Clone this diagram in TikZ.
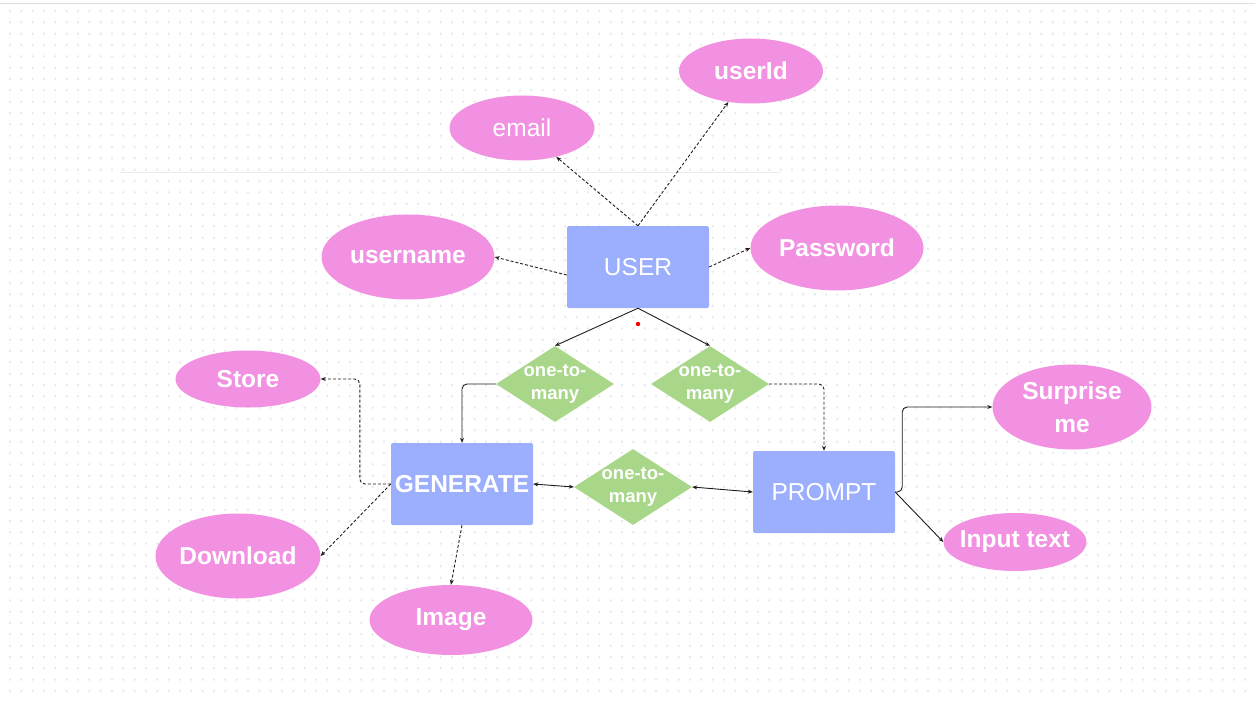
\documentclass[tikz,border=0pt]{standalone}
\usepackage{fontspec}
\setmainfont{Liberation Sans}
\usetikzlibrary{arrows.meta,shapes.geometric}
\definecolor{Entity}{HTML}{9CAFFE}
\definecolor{Attr}{HTML}{F290E1}
\definecolor{Rel}{HTML}{A9D78A}
\definecolor{Ink}{HTML}{1E1E1E}
\definecolor{Dots}{HTML}{E7E7EE}
\tikzset{
  >={Stealth[length=5pt,width=4pt]},
  entity/.style={rectangle,rounded corners=2pt,fill=Entity,minimum width=142pt,minimum height=82pt,text=white,font=\fontsize{24.5}{30}\selectfont},
  attr/.style={ellipse,fill=Attr,inner sep=-8pt,text=white,align=center,font=\fontsize{24.5}{33}\selectfont\bfseries},
  rel/.style={diamond,fill=Rel,aspect=1.55,inner sep=-3pt,minimum width=118pt,minimum height=76pt,text=white,align=center,font=\fontsize{18.5}{23}\selectfont\bfseries},
  link/.style={->,line width=.9pt,draw=Ink},
  duallink/.style={<->,line width=.9pt,draw=Ink},
  dashlink/.style={link,dash pattern=on 3pt off 2pt},
  griddots/.style={draw=Dots,line width=2.6pt,line cap=round,dash pattern=on 0pt off 11.333pt}
}
\begin{document}
\begin{tikzpicture}[x=1pt,y=-1pt]
  \useasboundingbox (0,0) rectangle (1255,701);
  % background
  \foreach \row in {0,...,60}
    \draw[griddots] (10,11+\row*11.333) -- (1255,11+\row*11.333);
  \draw[gray!25,line width=1pt] (0,4) -- (1255,4);
  \draw[gray!15,line width=1pt] (120,172) -- (780,172);
  % entities
  \node[entity] (user) at (638,267) {USER};
  \node[entity,font=\fontsize{24.5}{30}\selectfont\bfseries] (generate) at (462,484) {GENERATE};
  \node[entity] (prompt) at (824,492) {PROMPT};
  % relations
  \node[rel] (d1) at (555,384) {one-to-\\many};
  \node[rel] (d2) at (710,384) {one-to-\\many};
  \node[rel] (d3) at (633,487) {one-to-\\many};
  % attributes
  \node[attr,minimum width=144pt,minimum height=65pt] (userid) at (751,71) {userId};
  \node[attr,minimum width=145pt,minimum height=65pt,font=\fontsize{24.5}{33}\selectfont] (email) at (522,128) {email};
  \node[attr,minimum width=173pt,minimum height=85pt] (username) at (408,257) {username};
  \node[attr,minimum width=173pt,minimum height=85pt] (password) at (837,248) {Password};
  \node[attr,minimum width=145pt,minimum height=57pt] (store) at (248,379) {Store};
  \node[attr,minimum width=165pt,minimum height=85pt] (download) at (238,556) {Download};
  \node[attr,minimum width=163pt,minimum height=70pt] (image) at (451,620) {Image};
  \node[attr,minimum width=159pt,minimum height=85pt] (surprise) at (1072,407) {Surprise\\me};
  \node[attr,minimum width=143pt,minimum height=58pt] (input) at (1015,542) {Input text};
  \fill[red] (638,324) circle (2.2);
  % connectors
  \draw[dashlink] (user.north) -- (email);
  \draw[dashlink] (user.north) -- (userid);
  \draw[dashlink] ([yshift=-8pt]user.west) -- (username.east);
  \draw[dashlink] (user.east) -- (password.west);
  \draw[link] (user.south) -- (d1.north);
  \draw[link] (user.south) -- (d2.north);
  \draw[link,rounded corners=5pt] (d1.west) -| (generate.north);
  \draw[dashlink,rounded corners=5pt] (d2.east) -| (prompt.north);
  \draw[duallink] (generate.east) -- (d3.west);
  \draw[duallink] (d3.east) -- (prompt.west);
  \draw[dashlink,rounded corners=5pt] (generate.west) -- ++(-31,0) |- (store.east);
  \draw[dashlink] (generate.west) -- (download.east);
  \draw[dashlink] (generate.south) -- (image.north);
  \draw[link,rounded corners=5pt] (prompt.east) -- ++(7,0) |- (surprise.west);
  \draw[link] (prompt.east) -- (input.west);
\end{tikzpicture}
\end{document}
